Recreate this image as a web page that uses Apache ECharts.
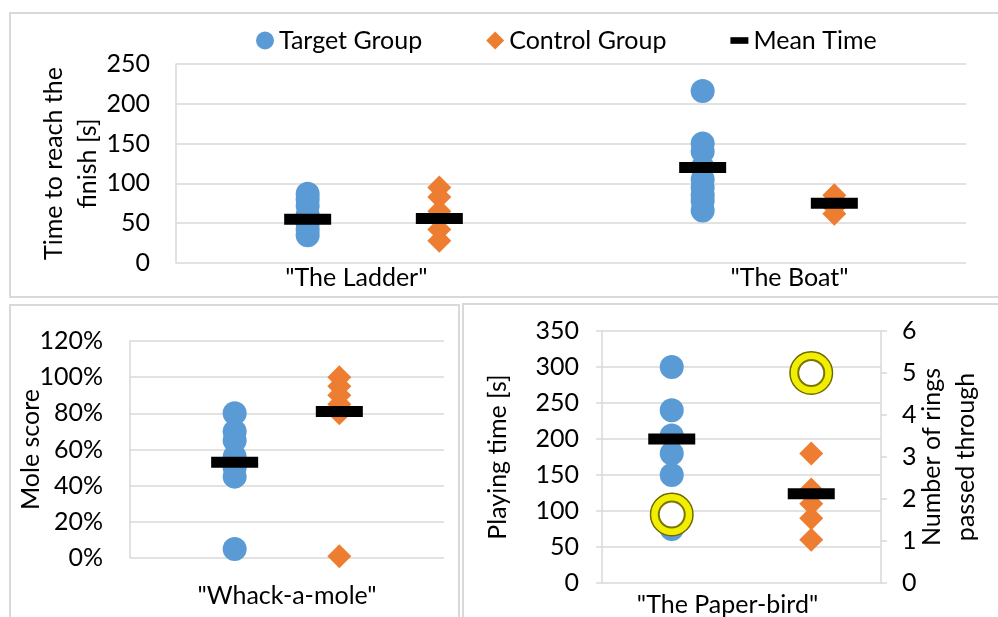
<!DOCTYPE html>
<html>
<head>
<meta charset="utf-8">
<script src="https://cdn.jsdelivr.net/npm/echarts@6/dist/echarts.min.js"></script>
<style>
html, body { margin: 0; padding: 0; background: #fff; }
#main { width: 998px; height: 617px; }
</style>
</head>
<body>
<div id="main"></div>
<script>
// top panel: "The Ladder" / "The Boat" (seconds)
var topCats = ['"The Ladder"', '"The Boat"'];
var topCatAt = [1.37, 4.66];
var ladderTarget = [87, 80, 72, 60, 50, 42, 35];
var ladderControl = [95, 83, 65, 55, 42, 28];
var boatTarget = [216, 150, 140, 120, 105, 95, 85, 78, 66];
var boatControl = [85, 78, 70, 62];
var topSlots = [1, 2, 4, 5];            // ladder T, ladder C, boat T, boat C
var topMeans = [55, 56, 120, 75];

// bottom left: whack-a-mole (percent)
var moleCat = ['"Whack-a-mole"'];
var moleCatAt = [1.5];
var moleTarget = [80, 70, 65, 56, 50, 45, 5];
var moleControl = [100, 95, 90, 85, 80, 1];
var moleSlots = [1, 2];
var moleMeans = [53, 81];

// bottom right: paper-bird (seconds + rings)
var birdCat = ['"The Paper-bird"'];
var birdCatAt = [1.8];
var birdTarget = [300, 240, 205, 180, 150, 75];
var birdControl = [180, 130, 110, 90, 60];
var birdSlots = [1, 3];
var birdMeans = [200, 124];
var birdRings = [1.63, 5];

var BLUE = '#5b9bd5', ORANGE = '#ed7d31', GRID = '#d9d9d9', FONT = 'Lato', FS = 25;

function pts(x, arr) {
  return arr.map(function (v) { return [x, v]; });
}
function pairs(xs, ys) {
  return xs.map(function (x, i) { return [x, ys[i]]; });
}
function catLabel(cats, at) {
  return function (v) {
    var best = 0;
    for (var i = 1; i < at.length; i++) {
      if (Math.abs(at[i] - v) < Math.abs(at[best] - v)) best = i;
    }
    return cats[best];
  };
}

function xAx(grid, max, cats, at, margin) {
  return {
    type: 'value', gridIndex: grid, min: 0, max: max,
    axisLine: { show: false }, axisTick: { show: false }, splitLine: { show: false },
    axisLabel: {
      customValues: at, formatter: catLabel(cats, at),
      fontSize: FS, color: '#000', fontFamily: FONT, margin: margin
    }
  };
}
function yAx(grid, max, step, name, gap, margin, opts) {
  var ax = {
    type: 'value', gridIndex: grid, min: 0, max: max, interval: step,
    name: name, nameLocation: 'middle', nameRotate: 90, nameGap: gap,
    nameMoveOverlap: false,
    nameTextStyle: { fontSize: FS, color: '#000', fontFamily: FONT, lineHeight: 34 },
    axisLine: { show: true, lineStyle: { color: GRID, width: 1.5 } },
    axisTick: { show: false },
    splitLine: { show: true, lineStyle: { color: GRID, width: 1.5 } },
    axisLabel: { fontSize: FS, color: '#000', fontFamily: FONT, margin: margin }
  };
  for (var k in opts) ax[k] = opts[k];
  return ax;
}

function dots(name, xi, yi, data, shape, color) {
  return {
    name: name, type: 'scatter', xAxisIndex: xi, yAxisIndex: yi,
    symbol: shape, symbolSize: 24, data: data,
    itemStyle: { color: color, opacity: 1 }, silent: true
  };
}
function means(xi, yi, data) {
  return {
    name: 'Mean Time', type: 'scatter', xAxisIndex: xi, yAxisIndex: yi,
    symbol: 'rect', symbolSize: [47, 11], data: data, z: 3,
    itemStyle: { color: '#000', opacity: 1 }, silent: true
  };
}
function ring(size, width, color, fill, z) {
  return {
    type: 'scatter', xAxisIndex: 2, yAxisIndex: 3,
    symbol: 'circle', symbolSize: size, z: z, silent: true,
    data: pairs(birdSlots, birdRings),
    itemStyle: { color: fill, borderColor: color, borderWidth: width, opacity: 1 }
  };
}

var chart = echarts.init(document.getElementById('main'));
chart.setOption({
  animation: false,
  textStyle: { fontFamily: FONT },
  legend: {
    left: 251, top: 23, itemWidth: 18, itemHeight: 18, itemGap: 64,
    textStyle: { fontSize: FS, color: '#000', fontFamily: FONT },
    data: [
      { name: 'Target Group', icon: 'circle', itemStyle: { color: BLUE, opacity: 1 } },
      { name: 'Control Group', icon: 'diamond', itemStyle: { color: ORANGE, opacity: 1 } },
      { name: 'Mean Time', icon: 'path://M0,0 L19,0 L19,7 L0,7 Z', itemStyle: { color: '#000', opacity: 1 } }
    ],
    selectedMode: false
  },
  graphic: [
    { type: 'rect', shape: { x: 10, y: 13, width: 1000, height: 284 },
      style: { fill: 'none', stroke: '#d9d9d9', lineWidth: 2 }, z: -1 },
    { type: 'rect', shape: { x: 10, y: 305, width: 449, height: 330 },
      style: { fill: 'none', stroke: '#d9d9d9', lineWidth: 2 }, z: -1 },
    { type: 'rect', shape: { x: 463, y: 304, width: 560, height: 330 },
      style: { fill: 'none', stroke: '#d9d9d9', lineWidth: 2 }, z: -1 }
  ],
  grid: [
    { left: 176, top: 64, width: 790, height: 199 },
    { left: 130, top: 341, width: 314, height: 217 },
    { left: 602, top: 331, width: 279, height: 254 }
  ],
  xAxis: [
    xAx(0, 6, topCats, topCatAt, 2),
    xAx(1, 3, moleCat, moleCatAt, 25),
    xAx(2, 4, birdCat, birdCatAt, 9)
  ],
  yAxis: [
    yAx(0, 250, 50, 'Time to reach the\nfinish [s]', 71, 26, {}),
    yAx(1, 120, 20, 'Mole score', 82, 27, {
      axisLabel: { fontSize: FS, color: '#000', fontFamily: FONT, margin: 27, formatter: '{value}%' }
    }),
    yAx(2, 350, 50, 'Playing time [s]', 87, 23, {
      axisTick: { show: true, inside: false, length: 6, lineStyle: { color: GRID, width: 1.5 } }
    }),
    yAx(2, 6, 1, 'Number of rings\npassed through', 34, 21, {
      position: 'right',
      splitLine: { show: false },
      axisTick: { show: true, inside: false, length: 6, lineStyle: { color: GRID, width: 1.5 } }
    })
  ],
  series: [
    dots('Target Group', 0, 0, pts(topSlots[0], ladderTarget).concat(pts(topSlots[2], boatTarget)), 'circle', BLUE),
    dots('Control Group', 0, 0, pts(topSlots[1], ladderControl).concat(pts(topSlots[3], boatControl)), 'diamond', ORANGE),
    means(0, 0, pairs(topSlots, topMeans)),

    dots('Target Group', 1, 1, pts(moleSlots[0], moleTarget), 'circle', BLUE),
    dots('Control Group', 1, 1, pts(moleSlots[1], moleControl), 'diamond', ORANGE),
    means(1, 1, pairs(moleSlots, moleMeans)),

    dots('Target Group', 2, 2, pts(birdSlots[0], birdTarget), 'circle', BLUE),
    dots('Control Group', 2, 2, pts(birdSlots[1], birdControl), 'diamond', ORANGE),
    means(2, 2, pairs(birdSlots, birdMeans)),

    // rings (right axis): dark rim, yellow band, inner rim
    ring(42, 2, '#6f6a00', '#fff', 4),
    ring(34, 7, '#f2ee00', 'rgba(0,0,0,0)', 5),
    ring(26, 2, '#7a7400', 'rgba(0,0,0,0)', 6)
  ]
});
</script>
</body>
</html>
